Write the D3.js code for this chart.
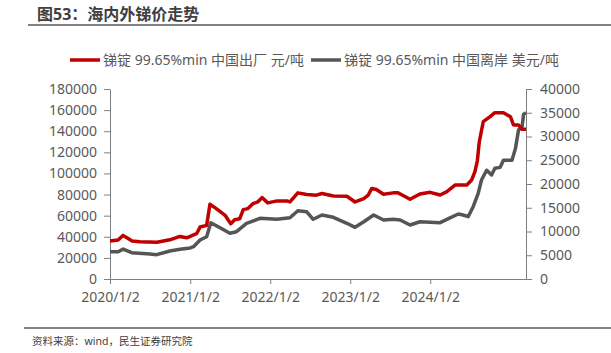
<!DOCTYPE html>
<html>
<head>
<meta charset="utf-8">
<script src="https://cdn.jsdelivr.net/npm/d3@7"></script>
<style>
  body { margin: 0; background: #fff; }
  svg text { font-family: "Noto Sans", "Noto Sans CJK SC", sans-serif; }
</style>
</head>
<body>
<div id="chart"></div>
<script>
// Antimony prices, China domestic (CNY/t) vs China offshore (USD/t)
const seriesNames = ["锑锭 99.65%min 中国出厂 元/吨", "锑锭 99.65%min 中国离岸 美元/吨"];

const cnyDates = ["2020-01-02","2020-02-08","2020-03-01","2020-03-19","2020-04-12","2020-05-17","2020-08-03","2020-10-01","2020-11-16","2020-12-17",
  "2021-01-31","2021-02-16","2021-03-18","2021-04-02","2021-05-01","2021-06-10","2021-07-06","2021-07-24","2021-08-16","2021-09-01",
  "2021-09-22","2021-10-15","2021-11-06","2021-11-26","2021-12-22","2022-02-02","2022-03-18","2022-04-02","2022-05-08","2022-06-17",
  "2022-08-01","2022-08-26","2022-10-17","2022-12-18","2023-01-24","2023-03-05","2023-03-25","2023-04-10","2023-05-01","2023-06-03",
  "2023-07-17","2023-08-08","2023-08-29","2023-10-02","2023-11-16","2024-01-02","2024-02-16","2024-03-18","2024-04-24","2024-06-17",
  "2024-07-09","2024-07-24","2024-08-04","2024-08-13","2024-08-31","2024-10-01","2024-10-23","2024-12-01","2025-01-02","2025-01-16",
  "2025-02-08","2025-02-24","2025-03-14"];
const cnyValues = [36000,37000,41300,39000,36000,35200,34900,37100,40300,39000,
  42900,49200,50800,70800,66700,60300,52400,56200,57100,65700,
  66700,71400,73000,77100,72100,74000,74000,73000,81600,80000,
  79400,81000,78700,78400,73000,76200,79400,85700,84800,80300,
  81600,81600,79400,75500,80500,82100,79600,82800,89000,89000,
  93800,101700,112000,130100,149000,153800,157600,157600,153800,145900,
  145900,141800,141800];

const usdDates = ["2020-01-02","2020-02-08","2020-03-02","2020-04-10","2020-07-02","2020-08-02","2020-10-01","2020-11-16","2021-01-02","2021-01-17",
  "2021-02-16","2021-03-18","2021-04-06","2021-05-18","2021-07-02","2021-08-01","2021-09-16","2021-11-16","2022-02-01","2022-04-02",
  "2022-05-08","2022-06-17","2022-07-17","2022-08-26","2022-10-17","2022-12-18","2023-01-24","2023-03-05","2023-04-19","2023-06-03",
  "2023-07-17","2023-08-18","2023-10-02","2023-11-16","2024-02-16","2024-03-18","2024-05-09","2024-05-31","2024-06-23","2024-07-16",
  "2024-08-08","2024-08-23","2024-09-08","2024-09-16","2024-10-08","2024-10-23","2024-11-16","2024-12-01","2025-01-09","2025-01-25",
  "2025-02-08","2025-02-24","2025-03-03","2025-03-14"];
const usdValues = [5750,5750,6300,5540,5260,5120,5900,6250,6530,6800,
  8200,8900,11850,10800,9620,9960,11730,12770,12570,12900,
  14380,14170,12570,13470,12990,11730,10880,12060,13470,12420,
  12570,12420,11370,12060,11860,12560,13680,13470,13120,15220,
  18040,20840,22250,22900,21900,23300,23500,25000,25000,27500,
  31400,32000,34700,35000];

const leftTicks = [0,20000,40000,60000,80000,100000,120000,140000,160000,180000];
const rightTicks = [0,5000,10000,15000,20000,25000,30000,35000,40000];
const xTickDates = ["2020-01-02","2021-01-02","2022-01-02","2023-01-02","2024-01-02"];

const W = 611, H = 353;
const parse = d3.timeParse("%Y-%m-%d");
const axisColor = "#7f7f7f";
const textColor = "#595959";

const svg = d3.select("#chart").append("svg").attr("width", W).attr("height", H);

// title + rules
svg.append("text").attr("x", 37).attr("y", 20)
  .style("font-size", "16px").style("font-weight", "bold").attr("fill", "#404040")
  .text("图53：海内外锑价走势");
svg.append("line").attr("x1", 28).attr("x2", W).attr("y1", 25).attr("y2", 25)
  .attr("stroke", "#595959").attr("stroke-width", 1.5);
svg.append("line").attr("x1", 24).attr("x2", W).attr("y1", 328).attr("y2", 328)
  .attr("stroke", "#595959").attr("stroke-width", 1.5);
svg.append("text").attr("x", 32).attr("y", 345)
  .style("font-size", "10.5px").attr("fill", "#404040")
  .text("资料来源：wind，民生证券研究院");

// scales
const x = d3.scaleTime()
  .domain([parse("2020-01-02"), parse("2025-03-14")])
  .range([110, 526]);
const yL = d3.scaleLinear().domain([0, 180000]).range([279, 89]);
const yR = d3.scaleLinear().domain([0, 40000]).range([279, 89]);

function styleAxis(g) {
  g.selectAll("path, line").attr("stroke", axisColor);
  g.selectAll("text").attr("fill", textColor).style("font-size", "14px");
}

svg.append("g").attr("transform", "translate(110,0)")
  .call(d3.axisLeft(yL).tickValues(leftTicks).tickFormat(d3.format("d")).tickSize(6).tickSizeOuter(0).tickPadding(7))
  .call(styleAxis);
svg.append("g").attr("transform", "translate(526,0)")
  .call(d3.axisRight(yR).tickValues(rightTicks).tickFormat(d3.format("d")).tickSize(6).tickSizeOuter(0).tickPadding(8))
  .call(styleAxis);
svg.append("g").attr("transform", "translate(0,279)")
  .call(d3.axisBottom(x).tickValues(xTickDates.map(parse))
    .tickFormat(d3.timeFormat("%Y/%-m/%-d")).tickSize(5).tickSizeOuter(0).tickPadding(8))
  .call(styleAxis);

// lines
const cnyData = cnyDates.map((d, i) => ({ date: parse(d), value: cnyValues[i] }));
const usdData = usdDates.map((d, i) => ({ date: parse(d), value: usdValues[i] }));

svg.append("path").datum(usdData)
  .attr("fill", "none").attr("stroke", "#555555").attr("stroke-width", 3.5)
  .attr("stroke-linejoin", "round")
  .attr("d", d3.line().x(d => x(d.date)).y(d => yR(d.value)));

svg.append("path").datum(cnyData)
  .attr("fill", "none").attr("stroke", "#c00000").attr("stroke-width", 3.5)
  .attr("stroke-linejoin", "round")
  .attr("d", d3.line().x(d => x(d.date)).y(d => yL(d.value)));

// legend
const legendItems = [
  { name: seriesNames[0], color: "#c00000", x: 70 },
  { name: seriesNames[1], color: "#555555", x: 311 }
];
legendItems.forEach(item => {
  svg.append("line").attr("x1", item.x).attr("x2", item.x + 30).attr("y1", 60).attr("y2", 60)
    .attr("stroke", item.color).attr("stroke-width", 3.5);
  svg.append("text").attr("x", item.x + 33).attr("y", 65)
    .style("font-size", "14px").attr("fill", textColor).text(item.name);
});
</script>
</body>
</html>
